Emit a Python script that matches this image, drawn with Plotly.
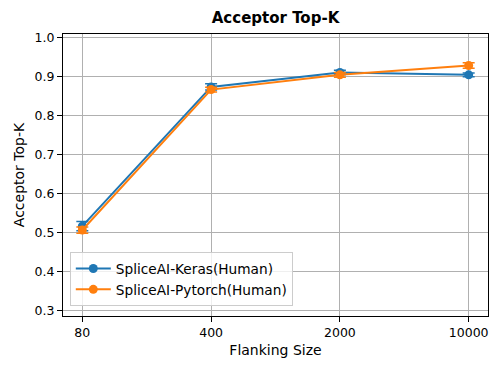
import plotly.graph_objects as go

flanking_sizes = ["80", "400", "2000", "10000"]
keras_topk = [0.516, 0.874, 0.911, 0.905]
keras_err = [0.012, 0.008, 0.006, 0.005]
pytorch_topk = [0.506, 0.867, 0.905, 0.929]
pytorch_err = [0.008, 0.006, 0.006, 0.007]
y_ticks = [0.3, 0.4, 0.5, 0.6, 0.7, 0.8, 0.9, 1.0]

font = "DejaVu Sans"
fig = go.Figure()
for name, vals, errs, color in [
    ("SpliceAI-Keras(Human)", keras_topk, keras_err, "#1f77b4"),
    ("SpliceAI-Pytorch(Human)", pytorch_topk, pytorch_err, "#ff7f0e"),
]:
    fig.add_trace(go.Scatter(
        x=flanking_sizes, y=vals, name=name, mode="lines+markers",
        line=dict(color=color, width=2),
        marker=dict(color=color, size=9, symbol="circle"),
        error_y=dict(type="data", array=errs, visible=True, color=color, thickness=1.5, width=6),
    ))

axis_common = dict(
    showline=True, linecolor="black", linewidth=1, mirror=True,
    ticks="outside", ticklen=5, tickcolor="black", tickwidth=1,
    showgrid=True, gridcolor="#b0b0b0", gridwidth=1, zeroline=False,
    tickfont=dict(family=font, size=12.5, color="black"),
)
fig.update_xaxes(type="category", range=[-0.15, 3.15],
                 title=dict(text="Flanking Size", font=dict(family=font, size=14, color="black"), standoff=6),
                 **axis_common)
fig.update_yaxes(range=[0.285, 1.01], tickvals=y_ticks, ticktext=[f"{v:.1f}" for v in y_ticks],
                 title=dict(text="Acceptor Top-K", font=dict(family=font, size=14, color="black"), standoff=6),
                 **axis_common)

fig.update_layout(
    width=492, height=370,
    margin=dict(l=63, r=4, t=34, b=54),
    paper_bgcolor="white", plot_bgcolor="white",
    title=dict(text="<b>Acceptor Top-K</b>", x=(63 + 488) / 2 / 492, xanchor="center",
               y=1 - 18 / 370, yanchor="middle", yref="container",
               font=dict(family=font, size=15, color="black")),
    legend=dict(x=0.016, y=0.035, xanchor="left", yanchor="bottom",
                bgcolor="rgba(255,255,255,0.8)", bordercolor="#cccccc", borderwidth=1,
                itemwidth=35,
                font=dict(family=font, size=13.7, color="black")),
    showlegend=True,
)
fig.write_html("out.html")
